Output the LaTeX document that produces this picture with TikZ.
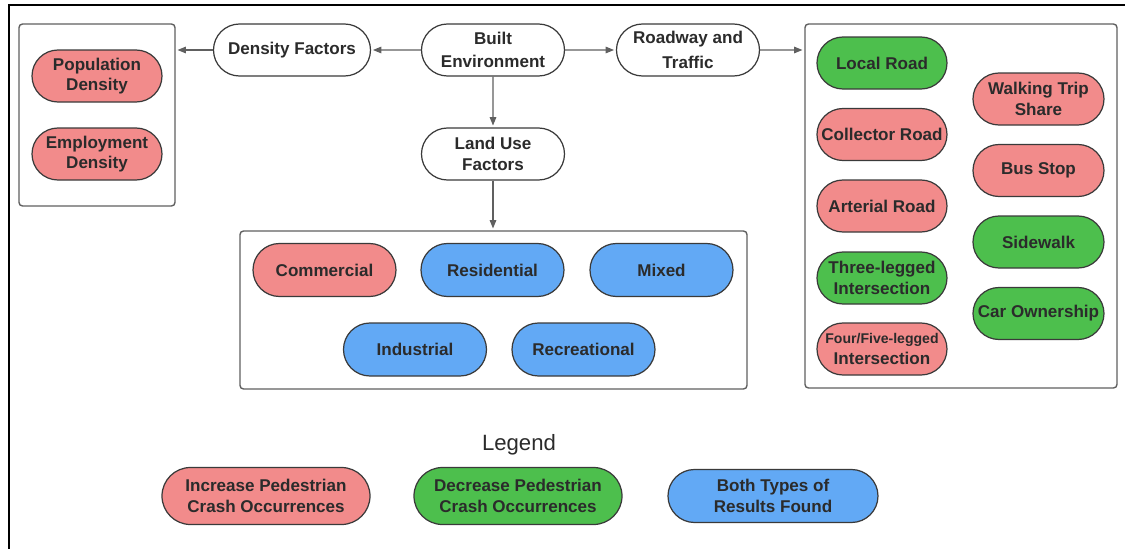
\documentclass[tikz,border=0pt]{standalone}
\usepackage{fontspec}
\setmainfont{Liberation Sans}
\usetikzlibrary{arrows.meta,shapes.misc,positioning}
\definecolor{incr}{HTML}{F28B8B}
\definecolor{decr}{HTML}{4DBF4D}
\definecolor{both}{HTML}{62A9F5}
\definecolor{txtgray}{HTML}{2B2B2B}
\definecolor{pillline}{HTML}{3A3A3A}
\definecolor{boxline}{HTML}{606060}
\tikzset{
  pill/.style={rounded rectangle, draw=pillline, line width=0.7pt, text=txtgray,
    align=center, inner sep=0pt, minimum height=10.4mm,
    font=\bfseries\fontsize{9.7}{11.5}\selectfont},
  topnode/.style={pill, fill=white, minimum width=28.6mm},
  incrnode/.style={pill, fill=incr},
  decrnode/.style={pill, fill=decr},
  bothnode/.style={pill, fill=both},
  groupbox/.style={draw=boxline, line width=0.8pt, rounded corners=2pt, inner sep=0pt},
  arr/.style={draw=boxline, line width=0.8pt, -{Triangle[length=1.7mm,width=1.3mm]}, shorten >=1pt}
}
\begin{document}
\begin{tikzpicture}[x=0.2mm,y=-0.2mm]
\useasboundingbox (0,0) rectangle (1125,549);
\draw[line width=1.3pt] (9,549) -- (9,5) -- (1125,5); % page frame

% top row
\node[topnode] (built) at (493,50) {Built\\[1.5pt]Environment};
\node[topnode, minimum width=31.4mm] (dens) at (292,50) {Density Factors};
\node[topnode] (road) at (688,50) {Roadway and\\[2.5pt]Traffic};
\node[topnode] (land) at (493,154) {Land Use\\Factors};

% group boxes
\node[groupbox, minimum width=31.2mm, minimum height=36.4mm] (densbox) at (97,115) {};
\node[groupbox, minimum width=101.4mm, minimum height=31.6mm] (landbox) at (493.5,310) {};
\node[groupbox, minimum width=62.4mm, minimum height=72.8mm] (roadbox) at (961,206) {};

% density factors
\node[incrnode, minimum width=26mm] (popden) at (97,76) {Population\\Density};
\node[incrnode, minimum width=26mm] (empden) at (97,154) {Employment\\Density};

% land use factors
\foreach \nm/\txt/\xx/\yy/\st in {comm/Commercial/324.5/270/incrnode,
    resi/Residential/492.5/270/bothnode, mixd/Mixed/661.5/270/bothnode,
    indu/Industrial/415/349.5/bothnode, recr/Recreational/583.5/349.5/bothnode}
  \node[\st, minimum width=28.6mm, minimum height=10.6mm] (\nm) at (\xx,\yy) {\txt};

% roadway and traffic factors
\foreach \nm/\txt/\yy/\st in {local/Local Road/63/decrnode,
    collect/Collector Road/134.5/incrnode, arter/Arterial Road/206/incrnode,
    threeleg/{Three-legged\\Intersection}/278/decrnode,
    fourleg/{{\fontsize{8}{10}\selectfont Four/Five-legged}\\Intersection}/349/incrnode}
  \node[\st, minimum width=26mm] (\nm) at (882,\yy) {\txt};
\foreach \nm/\txt/\yy/\st in {walk/{Walking Trip\\Share}/99/incrnode,
    bus/Bus Stop/170.5/incrnode, side/Sidewalk/242/decrnode,
    car/Car Ownership/313.5/decrnode}
  \node[\st, minimum width=26.2mm] (\nm) at (1038.5,\yy) {\txt};

% connectors
\draw[arr] (built) -- (dens);
\draw[arr] (dens) -- (dens.west -| densbox.east);
\draw[arr] (built) -- (road);
\draw[arr] (road) -- (road.east -| roadbox.west);
\draw[arr] (built) -- (land);
\draw[arr] (land.south) -- (land.south |- landbox.north);

% legend
\node[text=txtgray, font=\fontsize{12.6}{14}\selectfont] (legendtitle) at (519,445) {Legend};
\node[incrnode, minimum width=41.6mm, minimum height=11.4mm] (legincr) at (266,496) {Increase Pedestrian\\Crash Occurrences};
\node[decrnode, minimum width=41.6mm, minimum height=11.4mm] (legdecr) at (518,496) {Decrease Pedestrian\\Crash Occurrences};
\node[bothnode, minimum width=42mm, minimum height=10.6mm] (legboth) at (773,496) {Both Types of\\Results Found};
\end{tikzpicture}
\end{document}
